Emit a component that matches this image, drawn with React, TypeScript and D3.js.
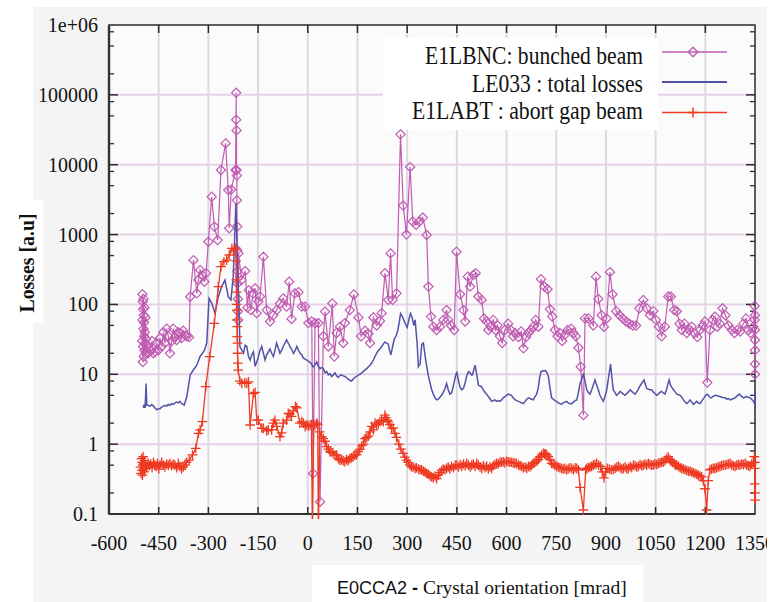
import React from "react";
import * as d3 from "d3";

// Beam losses vs crystal orientation (log scale)
const bunchedBeam: [number, number][] = [
  [-500, 30], [-499, 140], [-499, 60], [-498, 110], [-498, 15], [-497, 85], [-497, 25], [-496, 120],
  [-496, 45], [-495, 70], [-495, 18], [-494, 55], [-494, 35], [-493, 90], [-493, 22], [-492, 40],
  [-491, 28], [-490, 65], [-489, 20], [-488, 32], [-486, 25], [-482, 20], [-476, 22], [-470, 30],
  [-466, 20], [-461, 21], [-456, 28], [-451, 22], [-446, 33], [-441, 25], [-436, 40], [-431, 28],
  [-426, 45], [-421, 35], [-416, 20], [-411, 30], [-406, 45], [-401, 34], [-396, 31], [-391, 40],
  [-386, 39], [-381, 33], [-376, 42], [-370, 36], [-365, 35], [-358, 34], [-355, 129], [-345, 430],
  [-335, 144], [-330, 224], [-325, 311], [-318, 260], [-312, 211], [-307, 279], [-300, 790],
  [-290, 3480], [-282, 1300], [-272, 836], [-262, 8400], [-248, 20200], [-240, 4340], [-237, 1230],
  [-231, 4400], [-218, 8400], [-216, 107000], [-216, 44000], [-215, 31000], [-215, 8400],
  [-214, 7000], [-214, 3100], [-213, 1300], [-213, 600], [-212, 300], [-212, 200], [-211, 120],
  [-211, 80], [-210, 60], [-209, 540], [-200, 224], [-189, 300], [-182, 90], [-178, 160],
  [-172, 83], [-165, 143], [-159, 170], [-154, 75], [-149, 110], [-144, 130], [-134, 480],
  [-124, 83], [-114, 57], [-104, 70], [-94, 83], [-84, 103], [-74, 122], [-64, 93], [-56, 211],
  [-49, 62], [-39, 144], [-28, 150], [-18, 93], [-8, 93], [2, 54], [12, 57], [16, 0.38], [22, 54],
  [32, 54], [37, 0.15], [47, 35], [52, 79], [62, 25], [74, 103], [80, 18], [87, 39], [97, 48],
  [107, 28], [112, 54], [127, 83], [139, 139], [153, 65], [161, 35], [173, 42], [183, 38],
  [188, 28], [198, 65], [208, 50], [218, 58], [223, 75], [233, 279], [243, 116], [250, 538],
  [256, 116], [268, 144], [280, 27200], [288, 2600], [298, 1000], [309, 9300], [317, 1540],
  [327, 1380], [337, 1540], [347, 1750], [359, 986], [364, 180], [372, 67], [379, 48], [389, 43],
  [399, 48], [409, 60], [419, 83], [424, 60], [432, 50], [442, 43], [449, 569], [460, 140],
  [470, 83], [475, 57], [483, 250], [490, 180], [500, 265], [507, 280], [515, 130], [525, 116],
  [532, 63], [540, 57], [545, 43], [553, 48], [560, 60], [567, 43], [573, 50], [580, 35],
  [587, 28], [595, 43], [605, 53], [613, 43], [620, 35], [626, 39], [636, 34], [644, 41],
  [651, 23.5], [659, 34], [666, 39], [674, 43], [681, 48], [688, 60], [696, 48], [704, 230],
  [714, 180], [724, 165], [731, 85], [738, 67], [746, 43], [754, 35], [761, 39], [768, 30],
  [777, 37], [784, 43], [795, 45], [802, 39], [809, 35], [817, 24], [824, 12.8], [832, 2.6],
  [837, 63], [847, 63], [862, 50], [870, 250], [877, 120], [887, 70], [894, 48], [902, 63],
  [912, 290], [920, 140], [931, 80], [941, 70], [951, 63], [961, 57], [971, 53], [981, 50],
  [991, 50], [1001, 88], [1013, 116], [1023, 88], [1033, 70], [1043, 80], [1051, 60], [1060, 48],
  [1068, 35], [1078, 48], [1088, 130], [1096, 130], [1106, 83], [1114, 80], [1122, 53],
  [1129, 43], [1137, 53], [1144, 39], [1152, 43], [1159, 48], [1167, 39], [1176, 34], [1184, 43],
  [1192, 50], [1199, 57], [1206, 7.6], [1214, 43], [1222, 60], [1229, 67], [1236, 48], [1244, 53],
  [1252, 88], [1261, 70], [1270, 50], [1280, 43], [1288, 39], [1297, 43], [1305, 41], [1315, 53],
  [1323, 63], [1330, 43], [1337, 39], [1345, 48], [1349, 95], [1349, 60], [1350, 43], [1350, 31],
  [1350, 22], [1350, 14], [1350, 10], [1350, 70],
];

const totalLosses: [number, number][] = [
  [-497, 3.6], [-495, 3.3], [-493, 3.7], [-491, 3.3], [-488, 7.4], [-486, 3.6], [-483, 3.6],
  [-476, 3.5], [-471, 3.7], [-466, 3.5], [-461, 3.3], [-456, 3.1], [-451, 3.2], [-446, 3.2],
  [-441, 3.4], [-436, 3.5], [-431, 3.6], [-426, 3.5], [-421, 3.7], [-416, 3.6], [-411, 3.8],
  [-406, 3.7], [-401, 3.9], [-396, 4.0], [-391, 3.9], [-386, 4.1], [-381, 3.8], [-376, 3.7],
  [-373, 3.6], [-365, 4.8], [-355, 9.8], [-345, 11.6], [-335, 13.5], [-325, 18], [-312, 22],
  [-305, 28], [-298, 122], [-290, 105], [-280, 75], [-270, 129], [-260, 180], [-250, 224],
  [-240, 129], [-232, 116], [-225, 250], [-222, 600], [-217, 2800], [-214, 800], [-211, 224],
  [-208, 120], [-205, 25], [-199, 22], [-194, 20], [-189, 26], [-184, 25], [-179, 18], [-174, 16],
  [-169, 19], [-164, 21], [-159, 13], [-154, 15], [-149, 18], [-144, 22], [-139, 25], [-134, 20],
  [-129, 16], [-124, 19], [-119, 21], [-114, 23], [-109, 20], [-104, 18], [-99, 22], [-94, 28],
  [-89, 24], [-84, 20], [-79, 22], [-74, 25], [-69, 28], [-64, 31], [-59, 28], [-54, 25],
  [-49, 23], [-43, 20], [-38, 22], [-33, 25], [-28, 22], [-23, 20], [-18, 19], [-13, 17],
  [-8, 16.5], [-3, 16], [1, 15.5], [6, 15], [11, 14], [16, 12.8], [21, 13.5], [27, 15], [32, 13],
  [37, 12], [42, 12.5], [47, 12], [52, 10.5], [57, 11], [62, 9.8], [67, 10.2], [72, 9.3],
  [77, 9.8], [82, 10.5], [87, 9.5], [92, 9], [97, 9.6], [102, 9.8], [107, 9.5], [112, 9.3],
  [117, 9], [122, 8.5], [127, 8.2], [132, 8], [137, 8.5], [142, 9], [147, 9.3], [153, 9.8],
  [158, 10], [163, 10.5], [168, 11], [173, 11.6], [178, 12], [183, 12.8], [188, 13.5],
  [193, 14.5], [198, 16], [203, 18], [208, 20], [213, 22], [218, 23], [223, 25], [228, 27],
  [233, 29], [238, 28], [243, 27], [247, 22], [251, 19], [256, 25], [261, 32], [266, 35],
  [271, 41], [276, 55], [280, 74], [285, 68], [290, 60], [295, 52], [300, 47], [305, 60],
  [310, 74], [315, 65], [320, 50], [324, 60], [330, 28], [334, 12.8], [339, 14], [344, 27],
  [349, 28], [356, 16], [364, 9.5], [369, 7.5], [374, 6], [379, 5.2], [384, 4.6], [389, 4.3],
  [394, 4.4], [399, 4.7], [404, 5], [409, 5.5], [414, 6.2], [419, 7.4], [424, 6], [429, 5.2],
  [434, 5.4], [440, 7], [445, 9], [450, 10.9], [455, 8], [460, 6.5], [465, 6], [470, 6.3],
  [475, 7.5], [480, 9.5], [485, 10.9], [490, 10.5], [494, 9.8], [497, 9.8], [501, 11.5],
  [505, 13.5], [510, 10], [515, 7], [520, 6.8], [525, 6.6], [530, 6], [535, 5.5], [540, 5.2],
  [545, 4.8], [550, 4.5], [555, 4.1], [560, 4.2], [565, 4.3], [570, 4.1], [575, 4.2], [580, 4.1],
  [585, 4.3], [590, 4.6], [595, 4.8], [600, 5], [605, 5.2], [610, 5.1], [615, 5], [620, 4.6],
  [626, 4.3], [631, 4.2], [636, 4.1], [641, 4.0], [646, 3.9], [651, 3.8], [656, 4.1], [661, 4.4],
  [666, 4.6], [671, 4.5], [676, 4.4], [681, 4.3], [686, 4.8], [691, 5.2], [696, 6.5], [700, 9],
  [704, 10.9], [711, 11.2], [718, 11.3], [722, 10.5], [726, 9.5], [731, 6.5], [736, 4.6],
  [741, 4.4], [746, 4.2], [751, 4.1], [756, 3.9], [761, 3.8], [766, 3.7], [771, 3.9], [776, 4.0],
  [781, 4.1], [786, 3.9], [791, 3.8], [797, 3.8], [802, 4.0], [807, 4.2], [812, 4.3], [817, 5.5],
  [822, 7.4], [827, 8.5], [832, 10.3], [837, 8], [842, 6], [847, 5.5], [852, 5.2], [857, 6],
  [862, 7], [867, 8.3], [872, 7], [877, 6], [882, 5], [887, 4.5], [892, 4.1], [897, 4.8],
  [902, 5.8], [908, 9], [914, 14], [918, 9], [922, 6], [927, 5.5], [932, 5], [938, 5.3],
  [943, 5.7], [948, 5.4], [953, 5.2], [958, 5], [963, 5.3], [968, 5.6], [973, 6], [978, 5.7],
  [983, 5.4], [988, 5.2], [993, 5.6], [997, 6], [1001, 6.6], [1006, 7.2], [1011, 7.8],
  [1015, 8.3], [1019, 7.2], [1023, 6.3], [1028, 6.1], [1033, 6], [1038, 6], [1043, 5.6],
  [1048, 5.3], [1053, 5], [1058, 5.2], [1063, 5.5], [1068, 5.7], [1073, 5.4], [1078, 5.2],
  [1083, 6], [1087, 7.3], [1091, 8.3], [1095, 7], [1100, 6.4], [1104, 6], [1109, 5.6],
  [1114, 5.2], [1119, 5.1], [1124, 5], [1129, 4.7], [1134, 4.3], [1139, 4.0], [1144, 3.8],
  [1149, 4.0], [1154, 4.3], [1159, 4.0], [1164, 3.7], [1169, 3.9], [1174, 4.1], [1179, 3.9],
  [1184, 3.8], [1190, 4.2], [1196, 4.6], [1201, 5], [1206, 5.2], [1211, 4.9], [1215, 4.6],
  [1219, 4.6], [1225, 4.9], [1232, 5], [1238, 4.9], [1244, 4.8], [1250, 4.7], [1255, 4.6],
  [1260, 4.6], [1265, 4.4], [1270, 4.5], [1275, 4.3], [1280, 4.4], [1285, 4.5], [1290, 4.6],
  [1296, 4.9], [1303, 5.2], [1308, 4.9], [1315, 4.6], [1320, 4.7], [1325, 4.8], [1330, 4.7],
  [1335, 4.6], [1340, 4.4], [1345, 4.1], [1349, 3.8], [1350, 5.5], [1350, 3.6],
];

const abortGap: [number, number][] = [
  [-505, 0.47], [-503, 0.38], [-502, 0.62], [-501, 0.42], [-500, 0.55], [-499, 0.36], [-498, 0.5],
  [-497, 0.66], [-496, 0.44], [-495, 0.52], [-494, 0.4], [-493, 0.58], [-491, 0.45], [-489, 0.5],
  [-486, 0.47], [-482, 0.53], [-478, 0.49], [-474, 0.52], [-470, 0.46], [-466, 0.55], [-462, 0.5],
  [-458, 0.48], [-454, 0.53], [-450, 0.44], [-446, 0.5], [-441, 0.55], [-436, 0.5], [-431, 0.47],
  [-426, 0.52], [-421, 0.5], [-416, 0.53], [-411, 0.49], [-406, 0.52], [-401, 0.5], [-396, 0.46],
  [-391, 0.53], [-386, 0.48], [-381, 0.44], [-376, 0.47], [-371, 0.5], [-366, 0.55], [-358, 0.59],
  [-348, 0.7], [-338, 0.87], [-330, 1.43], [-325, 1.6], [-318, 2.1], [-308, 6.65], [-296, 17.9],
  [-282, 53.6], [-270, 180], [-262, 347], [-253, 409], [-245, 430], [-237, 510], [-229, 635],
  [-222, 600], [-218, 640], [-216, 420], [-216, 224], [-215, 150], [-215, 100], [-214, 83],
  [-214, 60], [-213, 48], [-213, 34.5], [-212, 28], [-212, 20], [-211, 14.4], [-210, 11.5],
  [-205, 8], [-199, 7.4], [-190, 7.6], [-184, 7.4], [-179, 7.8], [-174, 1.88], [-164, 5.3],
  [-159, 5.5], [-154, 2.2], [-149, 2.2], [-139, 1.7], [-134, 1.68], [-124, 1.55], [-119, 1.6],
  [-109, 1.6], [-104, 2.0], [-99, 2.2], [-94, 1.8], [-84, 1.28], [-79, 1.45], [-74, 2.0],
  [-64, 2.2], [-59, 2.76], [-54, 2.7], [-49, 2.5], [-44, 3.0], [-37, 3.44], [-33, 3.3],
  [-24, 2.0], [-18, 2.1], [-13, 2.0], [-8, 1.78], [-3, 1.9], [2, 1.8], [7, 1.88], [11, 1.9],
  [14, 0.05], [18, 1.9], [22, 1.88], [27, 2.0], [30, 1.9], [32, 0.05], [36, 1.5], [42, 1.28],
  [47, 1.2], [52, 1.1], [57, 0.92], [62, 0.85], [67, 0.78], [70, 0.77], [76, 0.75], [82, 0.7],
  [87, 0.7], [92, 0.62], [97, 0.59], [102, 0.6], [107, 0.58], [112, 0.56], [117, 0.6],
  [122, 0.58], [127, 0.62], [132, 0.64], [137, 0.66], [142, 0.7], [147, 0.7], [152, 0.78],
  [157, 0.84], [163, 0.95], [168, 1.0], [173, 1.2], [178, 1.25], [183, 1.3], [188, 1.5],
  [193, 1.8], [198, 1.6], [203, 2.0], [208, 1.9], [213, 1.95], [218, 2.1], [223, 2.2],
  [228, 2.1], [233, 2.6], [236, 2.4], [240, 2.2], [243, 2.1], [248, 1.9], [253, 1.7], [258, 1.7],
  [263, 1.43], [268, 1.25], [275, 1.0], [281, 0.85], [288, 0.74], [293, 0.65], [298, 0.59],
  [303, 0.55], [308, 0.5], [313, 0.475], [318, 0.47], [324, 0.45], [328, 0.46], [334, 0.44],
  [339, 0.43], [344, 0.43], [349, 0.41], [354, 0.4], [359, 0.38], [364, 0.37], [369, 0.35],
  [374, 0.34], [379, 0.33], [384, 0.35], [389, 0.32], [394, 0.36], [399, 0.39], [404, 0.42],
  [409, 0.44], [414, 0.43], [419, 0.45], [424, 0.47], [429, 0.44], [434, 0.48], [440, 0.46],
  [445, 0.5], [450, 0.5], [455, 0.47], [460, 0.51], [465, 0.48], [470, 0.52], [475, 0.49],
  [480, 0.53], [485, 0.5], [490, 0.47], [495, 0.5], [500, 0.52], [505, 0.48], [510, 0.53],
  [515, 0.5], [520, 0.47], [525, 0.45], [530, 0.49], [535, 0.46], [540, 0.48], [545, 0.44],
  [550, 0.47], [555, 0.45], [560, 0.49], [565, 0.51], [570, 0.53], [575, 0.52], [580, 0.55],
  [585, 0.55], [590, 0.56], [595, 0.54], [600, 0.57], [605, 0.56], [610, 0.55], [615, 0.55],
  [620, 0.54], [625, 0.53], [630, 0.53], [636, 0.5], [641, 0.49], [646, 0.48], [651, 0.46],
  [656, 0.47], [661, 0.45], [666, 0.48], [671, 0.47], [676, 0.5], [681, 0.53], [686, 0.55],
  [691, 0.57], [696, 0.6], [701, 0.66], [706, 0.7], [711, 0.74], [715, 0.72], [718, 0.73],
  [722, 0.7], [726, 0.66], [731, 0.6], [736, 0.53], [741, 0.52], [746, 0.5], [751, 0.48],
  [756, 0.47], [761, 0.46], [766, 0.45], [771, 0.44], [776, 0.45], [781, 0.43], [786, 0.44],
  [791, 0.46], [797, 0.45], [802, 0.43], [807, 0.46], [812, 0.45], [817, 0.43], [822, 0.24],
  [832, 0.114], [839, 0.43], [842, 0.45], [847, 0.46], [852, 0.47], [857, 0.48], [862, 0.5],
  [867, 0.51], [872, 0.53], [878, 0.5], [884, 0.48], [889, 0.4], [894, 0.33], [899, 0.4],
  [904, 0.45], [910, 0.44], [916, 0.43], [922, 0.43], [928, 0.45], [933, 0.47], [938, 0.48],
  [943, 0.46], [948, 0.44], [953, 0.45], [958, 0.47], [963, 0.44], [968, 0.45], [973, 0.48],
  [978, 0.46], [983, 0.5], [988, 0.49], [993, 0.47], [998, 0.48], [1003, 0.51], [1008, 0.49],
  [1013, 0.5], [1018, 0.52], [1023, 0.5], [1028, 0.53], [1033, 0.51], [1038, 0.5], [1043, 0.5],
  [1048, 0.52], [1053, 0.51], [1058, 0.53], [1063, 0.54], [1068, 0.55], [1073, 0.55],
  [1078, 0.58], [1083, 0.62], [1088, 0.66], [1093, 0.6], [1097, 0.57], [1101, 0.55],
  [1106, 0.53], [1110, 0.5], [1114, 0.5], [1119, 0.48], [1124, 0.46], [1129, 0.45], [1134, 0.44],
  [1139, 0.43], [1144, 0.42], [1149, 0.41], [1154, 0.41], [1159, 0.4], [1164, 0.39],
  [1169, 0.38], [1174, 0.37], [1179, 0.36], [1184, 0.35], [1189, 0.34], [1194, 0.3],
  [1199, 0.23], [1204, 0.114], [1209, 0.3], [1214, 0.43], [1219, 0.44], [1224, 0.45],
  [1229, 0.45], [1234, 0.46], [1239, 0.47], [1244, 0.48], [1249, 0.49], [1254, 0.5], [1260, 0.5],
  [1265, 0.51], [1270, 0.52], [1275, 0.53], [1280, 0.5], [1285, 0.49], [1290, 0.48], [1295, 0.5],
  [1300, 0.51], [1305, 0.5], [1310, 0.52], [1315, 0.51], [1320, 0.53], [1325, 0.5], [1330, 0.49],
  [1335, 0.48], [1340, 0.52], [1345, 0.55], [1348, 0.66], [1349, 0.45], [1349, 0.27],
  [1350, 0.2], [1350, 0.158], [1350, 0.55],
];

const xTickValues = [-600, -450, -300, -150, 0, 150, 300, 450, 600, 750, 900, 1050, 1200, 1350];
const yTickValues = [0.1, 1, 10, 100, 1000, 10000, 100000, 1000000];
const yTickLabels = ["0.1", "1", "10", "100", "1000", "10000", "100000", "1e+06"];
const legendLabels = ["E1LBNC: bunched beam", "LE033 : total losses", "E1LABT : abort gap beam"];

const W = 781;
const H = 602;
const left = 109;
const right = 755;
const top = 25;
const bottom = 514;

const PURPLE = "#c05cb2";
const BLUE = "#5252a8";
const RED = "#ee3a22";
const SERIF = "'Liberation Serif', 'Times New Roman', serif";
const SANS = "'Liberation Sans', Arial, sans-serif";

const x = d3.scaleLinear().domain([-600, 1350]).range([left, right]);
const y = d3.scaleLog().domain([0.1, 1e6]).range([bottom, top]);

const lineGen = d3
  .line<[number, number]>()
  .x((d) => x(d[0]))
  .y((d) => y(d[1]));

const diamond = (s: number) => `M0,${-s}L${s},0L0,${s}L${-s},0Z`;
const plus = (s: number) => `M${-s},0H${s}M0,${-s}V${s}`;

const minorTicks: number[] = [];
for (let e = -1; e < 6; e++) {
  for (const m of [2, 5, 8]) minorTicks.push(m * Math.pow(10, e));
}

export default function App() {
  const legendRows = [0, 1, 2];
  const rowLineY = [52, 82, 112.5];
  const rowBase = [64, 92, 119];
  const rowWidth = [218, 171, 231];
  return (
    <svg
      width={W}
      height={H}
      viewBox={`0 0 ${W} ${H}`}
      style={{ position: "absolute", left: 0, top: 0, display: "block" }}
    >
      <defs>
        <clipPath id="plotClip">
          <rect x={104} y={18} width={660} height={501} />
        </clipPath>
        <clipPath id="panelClip">
          <rect x={0} y={0} width={767} height={H} />
        </clipPath>
      </defs>

      {/* backgrounds */}
      <rect x={0} y={0} width={W} height={H} fill="#ffffff" />
      <rect x={33} y={7} width={734} height={H - 7} fill="#f4f4f4" />
      <rect x={13} y={200} width={30} height={123} fill="#ffffff" />
      <rect x={312} y={565} width={331} height={H - 565} fill="#ffffff" />
      <rect x={left} y={top} width={right - left} height={bottom - top} fill="#fbfbfb" />

      {/* grid */}
      {xTickValues.slice(1, -1).map((v) => (
        <line key={`gx${v}`} x1={x(v)} x2={x(v)} y1={top} y2={bottom} stroke="#ddd8e4" strokeWidth={2} />
      ))}
      {yTickValues.slice(1, -1).map((v) => (
        <line key={`gy${v}`} x1={left} x2={right} y1={y(v)} y2={y(v)} stroke="#e6d2e6" strokeWidth={2} />
      ))}

      {/* legend box */}
      <rect x={383} y={38} width={275} height={92} fill="#ffffff" />

      {/* axes frame and ticks */}
      <g stroke="#2a2a2a" fill="none">
        {xTickValues.slice(1, -1).map((v) => (
          <g key={`tx${v}`}>
            <line x1={x(v)} x2={x(v)} y1={bottom} y2={bottom - 7} strokeWidth={1.5} />
            <line x1={x(v)} x2={x(v)} y1={top} y2={top + 8} strokeWidth={1.5} />
          </g>
        ))}
        {yTickValues.slice(1, -1).map((v) => (
          <g key={`ty${v}`}>
            <line x1={left} x2={left + 9} y1={y(v)} y2={y(v)} strokeWidth={1.5} />
            <line x1={right} x2={right - 9} y1={y(v)} y2={y(v)} strokeWidth={1.5} />
          </g>
        ))}
        {minorTicks.map((v) => (
          <g key={`my${v}`}>
            <line x1={left} x2={left + 5} y1={y(v)} y2={y(v)} strokeWidth={1.3} />
            <line x1={right} x2={right - 5} y1={y(v)} y2={y(v)} strokeWidth={1.3} />
          </g>
        ))}
        <rect x={left} y={top} width={right - left} height={bottom - top} strokeWidth={1.5} />
        <line x1={left} x2={left} y1={top} y2={bottom} strokeWidth={2.4} stroke="#333" />
        <line x1={left} x2={right} y1={bottom} y2={bottom} strokeWidth={2} stroke="#333" />
      </g>

      {/* legend */}
      {legendRows.map((i) => (
        <text
          key={`lt${i}`}
          x={643}
          y={rowBase[i]}
          textAnchor="end"
          fontFamily={SERIF}
          fontSize={24.5}
          fill="#111"
          textLength={rowWidth[i]}
          lengthAdjust="spacingAndGlyphs"
        >
          {legendLabels[i]}
        </text>
      ))}
      <line x1={662} x2={727} y1={rowLineY[0]} y2={rowLineY[0]} stroke={PURPLE} strokeWidth={1.4} />
      <path d={diamond(4.8)} transform={`translate(693,${rowLineY[0]})`} fill="none" stroke={PURPLE} strokeWidth={1.4} />
      <line x1={662} x2={727} y1={rowLineY[1]} y2={rowLineY[1]} stroke={BLUE} strokeWidth={1.8} />
      <line x1={662} x2={727} y1={rowLineY[2]} y2={rowLineY[2]} stroke={RED} strokeWidth={1.4} />
      <path d={plus(5)} transform={`translate(693,${rowLineY[2]})`} fill="none" stroke={RED} strokeWidth={1.5} />

      {/* data */}
      <g clipPath="url(#plotClip)">
        <path d={lineGen(bunchedBeam) ?? ""} fill="none" stroke={PURPLE} strokeWidth={1.2} />
        {bunchedBeam.map((d, i) => (
          <path
            key={`pb${i}`}
            d={diamond(4.6)}
            transform={`translate(${x(d[0])},${y(d[1])})`}
            fill="none"
            stroke={PURPLE}
            strokeWidth={1.2}
          />
        ))}
        <path d={lineGen(totalLosses) ?? ""} fill="none" stroke={BLUE} strokeWidth={1.5} />
        <path d={lineGen(abortGap) ?? ""} fill="none" stroke={RED} strokeWidth={1.3} />
        {abortGap.map((d, i) => (
          <path
            key={`pr${i}`}
            d={plus(4.8)}
            transform={`translate(${x(d[0])},${y(d[1])})`}
            fill="none"
            stroke={RED}
            strokeWidth={1.3}
          />
        ))}
      </g>

      {/* tick labels */}
      <g clipPath="url(#panelClip)" fontFamily={SERIF} fontSize={20} fill="#111">
        {xTickValues.map((v) => (
          <text key={`lx${v}`} x={x(v)} y={550} textAnchor="middle">
            {v}
          </text>
        ))}
      </g>
      <g fontFamily={SERIF} fontSize={20} fill="#111">
        {yTickValues.map((v, i) => (
          <text key={`ly${v}`} x={98} y={y(v) + 7} textAnchor="end">
            {yTickLabels[i]}
          </text>
        ))}
      </g>

      {/* axis titles */}
      <text
        transform="translate(34,263) rotate(-90)"
        textAnchor="middle"
        fontFamily={SERIF}
        fontWeight="bold"
        fontSize={20}
        fill="#111"
        textLength={99}
        lengthAdjust="spacingAndGlyphs"
      >
        Losses [a.u]
      </text>
      <text x={337} y={594} fill="#111">
        <tspan fontFamily={SANS} fontSize={18}>E0CCA2</tspan>
        <tspan fontFamily={SANS} fontSize={18} fontWeight="bold"> - </tspan>
        <tspan fontFamily={SERIF} fontSize={19.5}>Crystal orientation [mrad]</tspan>
      </text>
    </svg>
  );
}
